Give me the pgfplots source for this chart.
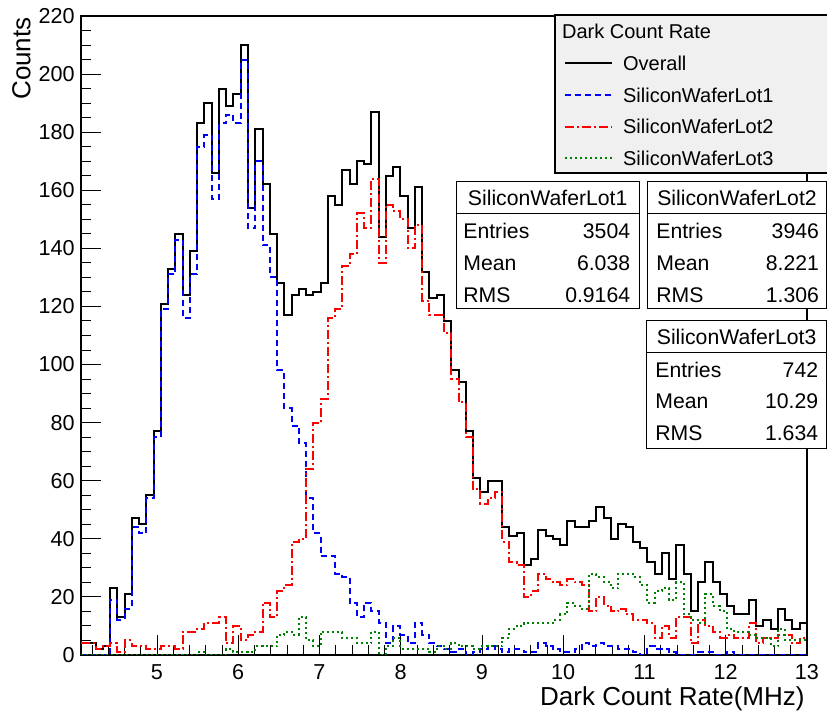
\documentclass[border=0pt]{standalone}
\usepackage{fontspec}
\setmainfont{Liberation Sans}
\usepackage{pgfplots}
\usepackage{pgfplotstable}
\pgfplotsset{compat=1.18}

\definecolor{lotblue}{RGB}{0,0,255}
\definecolor{lotred}{RGB}{255,0,0}
\definecolor{lotgreen}{RGB}{0,128,0}
\definecolor{legendgrey}{RGB}{240,240,240}

% Dark count rate histograms: bin index k, overall, lot 1, lot 2, lot 3
% (100 bins; the last row repeats bin 99 to close the final step)
\pgfplotstableread{
k all lotA lotB lotC
0 4 0 4 0
1 4 0 4 0
2 2 0 2 0
3 3 0 3 0
4 23 19 4 0
5 13 12 1 0
6 21 16 5 0
7 47 44 3 0
8 45 42 3 0
9 55 54 2 0
10 77 75 2 0
11 121 119 3 0
12 133 131 3 0
13 145 143 2 0
14 124 116 8 0
15 139 131 8 0
16 183 175 9 1
17 190 179 11 0
18 166 157 11 0
19 195 183 13 0
20 189 186 4 2
21 193 183 10 1
22 210 205 5 1
23 154 147 7 1
24 181 170 8 3
25 162 141 18 3
26 145 130 13 3
27 128 98 22 7
28 117 85 24 8
29 124 79 39 7
30 126 73 40 13
31 124 54 64 5
32 125 42 80 3
33 128 34 88 8
34 158 34 116 8
35 155 28 119 8
36 167 27 134 6
37 162 18 138 6
38 170 13 152 4
39 169 18 147 4
40 187 15 164 8
41 144 11 135 0
42 165 4 155 3
43 168 10 153 6
44 158 7 150 2
45 147 4 140 2
46 161 11 148 2
47 132 7 122 2
48 123 4 117 1
49 124 3 117 3
50 115 2 111 2
51 98 1 95 4
52 94 2 87 3
53 77 0 75 3
54 61 1 57 2
55 56 2 52 3
56 60 3 54 3
57 60 2 56 3
58 44 1 39 6
59 41 2 32 9
60 42 2 31 10
61 31 1 20 11
62 33 1 22 11
63 43 4 28 11
64 41 3 26 11
65 40 2 25 12
66 38 1 24 14
67 46 1 26 18
68 44 2 25 17
69 44 4 24 16
70 46 3 15 28
71 51 4 20 27
72 47 3 17 25
73 40 3 15 23
74 45 2 16 28
75 44 2 14 28
76 39 1 12 27
77 37 0 12 24
78 32 3 11 18
79 28 2 6 22
80 35 2 10 23
81 26 1 6 19
82 38 0 13 25
83 28 0 13 14
84 15 0 4 12
85 25 1 12 11
86 32 1 10 21
87 25 0 8 17
88 21 0 6 15
89 17 1 7 9
90 14 0 6 8
91 14 0 6 8
92 19 0 11 7
93 10 0 4 6
94 12 0 6 6
95 9 0 6 3
96 16 0 7 9
97 12 0 7 5
98 9 0 4 5
99 11 0 6 5
100 11 0 6 5
}\dcr

\tikzset{
  overall/.style={black, line width=1pt},
  lotone/.style={lotblue, line width=1pt, dash pattern=on 3pt off 2pt},
  lottwo/.style={lotred, line width=1pt, dash pattern=on 4.5pt off 1.5pt on 1pt off 1.5pt},
  lotthree/.style={lotgreen, line width=1pt, dash pattern=on 1pt off 1.5pt},
}
\newcommand\legfont{\fontsize{10}{12}\selectfont}
\newcommand\statfont{\fontsize{10.6}{12}\selectfont}
\newcommand\titlefont{\fontsize{13}{15}\selectfont}

\begin{document}
\begin{tikzpicture}
\useasboundingbox (-40.5pt,-30.5pt) rectangle (373pt,327.5pt);
\begin{axis}[
  at={(0pt,0pt)}, anchor=south west,
  scale only axis, width=363pt, height=319.5pt,
  xmin=4.0646, xmax=13, ymin=0, ymax=220,
  xtick={5,...,13}, ytick={0,20,...,220},
  minor xtick={4.2,4.4,...,12.9}, minor ytick={5,10,...,215},
  tick align=inside, xtick pos=left, ytick pos=left,
  major tick length=10pt, minor tick length=5pt,
  axis line style={line width=0.6pt},
  every tick/.style={black, line width=0.5pt},
  tick label style={font=\fontsize{10.8}{12}\selectfont},
  /pgf/number format/assume math mode=true,
  xticklabel style={inner sep=0pt, yshift=-4.5pt},
  yticklabel style={inner sep=0pt, xshift=-3pt},
  const plot,
]
\addplot[overall]  table[x expr=4.0646+0.089354*\thisrow{k}, y=all]{\dcr};
\addplot[lotone]   table[x expr=4.0646+0.089354*\thisrow{k}, y=lotA]{\dcr};
\addplot[lottwo]   table[x expr=4.0646+0.089354*\thisrow{k}, y=lotB]{\dcr};
\addplot[lotthree] table[x expr=4.0646+0.089354*\thisrow{k}, y=lotC]{\dcr};
\end{axis}

% titles, legend and statistics boxes, laid out on a 0.5pt grid from the top-left corner
\begin{scope}[x=0.5pt, y=-0.5pt, shift={(-40.5pt,327.5pt)}]
  \node[rotate=90, anchor=base east, inner sep=0pt, font=\titlefont] at (30.5,17) {Counts};
  \node[anchor=base east, inner sep=0pt, font=\titlefont] at (805,706) {Dark Count Rate(MHz)};

  % legend
  \filldraw[fill=legendgrey, draw=black, line width=0.6pt] (555,15) rectangle (828,173);
  \node[anchor=west, inner sep=0pt, font=\legfont] at (561.7,31.7) {Dark Count Rate};
  \draw[overall]  (565,63.3) -- (611.7,63.3);
  \node[anchor=west, inner sep=0pt, font=\legfont] at (622.7,63.3) {Overall};
  \draw[lotone]   (565,95) -- (611.7,95);
  \node[anchor=west, inner sep=0pt, font=\legfont] at (622.7,95) {SiliconWaferLot1};
  \draw[lottwo]   (565,126.7) -- (611.7,126.7);
  \node[anchor=west, inner sep=0pt, font=\legfont] at (622.7,126.7) {SiliconWaferLot2};
  \draw[lotthree] (565,158.3) -- (611.7,158.3);
  \node[anchor=west, inner sep=0pt, font=\legfont] at (622.7,158.3) {SiliconWaferLot3};

  % statistics: lot 1
  \filldraw[fill=white, draw=black, line width=0.5pt] (456,181.7) rectangle (639.3,309);
  \draw[line width=0.5pt] (456,213.3) -- (639.3,213.3);
  \node[inner sep=0pt, font=\statfont] at (547.7,197.5) {SiliconWaferLot1};
  \node[anchor=west, inner sep=0pt, font=\statfont] at (463,231) {Entries};
  \node[anchor=east, inner sep=0pt, font=\statfont] at (630.5,231) {3504};
  \node[anchor=west, inner sep=0pt, font=\statfont] at (463,263.3) {Mean};
  \node[anchor=east, inner sep=0pt, font=\statfont] at (630.5,263.3) {6.038};
  \node[anchor=west, inner sep=0pt, font=\statfont] at (463,295) {RMS};
  \node[anchor=east, inner sep=0pt, font=\statfont] at (630.5,295) {0.9164};

  % statistics: lot 2
  \filldraw[fill=white, draw=black, line width=0.5pt] (647.7,181.7) rectangle (826.5,309);
  \draw[line width=0.5pt] (647.7,213.3) -- (826.5,213.3);
  \node[inner sep=0pt, font=\statfont] at (737,197.5) {SiliconWaferLot2};
  \node[anchor=west, inner sep=0pt, font=\statfont] at (656,231) {Entries};
  \node[anchor=east, inner sep=0pt, font=\statfont] at (819.3,231) {3946};
  \node[anchor=west, inner sep=0pt, font=\statfont] at (656,263.3) {Mean};
  \node[anchor=east, inner sep=0pt, font=\statfont] at (819.3,263.3) {8.221};
  \node[anchor=west, inner sep=0pt, font=\statfont] at (656,295) {RMS};
  \node[anchor=east, inner sep=0pt, font=\statfont] at (819.3,295) {1.306};

  % statistics: lot 3
  \filldraw[fill=white, draw=black, line width=0.5pt] (646.7,321) rectangle (826.5,448.3);
  \draw[line width=0.5pt] (646.7,352.3) -- (826.5,352.3);
  \node[inner sep=0pt, font=\statfont] at (736.6,337) {SiliconWaferLot3};
  \node[anchor=west, inner sep=0pt, font=\statfont] at (655,370) {Entries};
  \node[anchor=east, inner sep=0pt, font=\statfont] at (818.5,370) {742};
  \node[anchor=west, inner sep=0pt, font=\statfont] at (655,401.7) {Mean};
  \node[anchor=east, inner sep=0pt, font=\statfont] at (818.5,401.7) {10.29};
  \node[anchor=west, inner sep=0pt, font=\statfont] at (655,433.3) {RMS};
  \node[anchor=east, inner sep=0pt, font=\statfont] at (818.5,433.3) {1.634};
\end{scope}
\end{tikzpicture}
\end{document}
